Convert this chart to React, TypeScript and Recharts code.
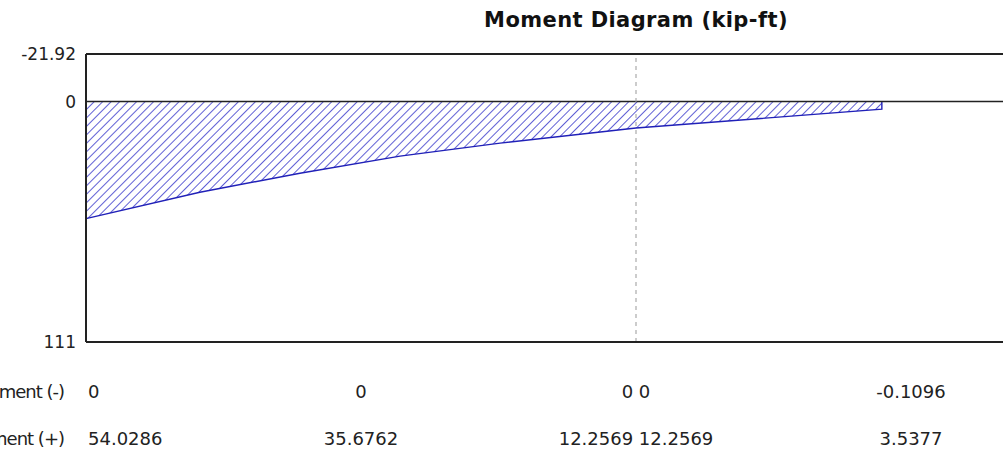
import { AreaChart, Area, XAxis, YAxis, ReferenceLine } from "recharts";

// beam stations (plot units, midspan = 10) and moment
const STATION = [0, 2.07, 3.89, 5.71, 7.53, 9.35, 10, 14.47, 14.47];
const MOMENT = [54.03, 41.9, 33.1, 25.2, 19.2, 14.1, 12.26, 3.54, 0];

const Y_TICKS = [-21.92, 0, 111];
const TABLE_STATIONS = [0, 5, 10, 15];
const NEG_ROW = ["0", "0", "0 0", "-0.1096"];
const POS_ROW = ["54.0286", "35.6762", "12.2569 12.2569", "3.5377"];
const ROW_NAMES = ["Moment (-)", "Moment (+)"];

const data = STATION.map((x, i) => ({ x, m: MOMENT[i] }));

const FONT = "'DejaVu Sans', Verdana, sans-serif";

function TableTick(props: any) {
  const { x, y, index } = props;
  const first = index === 0;
  const anchor = first ? "start" : "middle";
  const tx = first ? x + 2 : x;
  return (
    <g fontFamily={FONT} fontSize={18} fill="#222">
      {first && (
        <>
          <text x={x - 22} y={y} dy={48} textAnchor="end" letterSpacing={-1}>{ROW_NAMES[0]}</text>
          <text x={x - 22} y={y} dy={95} textAnchor="end" letterSpacing={-1}>{ROW_NAMES[1]}</text>
        </>
      )}
      <text x={tx} y={y} dy={48} textAnchor={anchor}>{NEG_ROW[index]}</text>
      <text x={tx} y={y} dy={95} textAnchor={anchor}>{POS_ROW[index]}</text>
    </g>
  );
}

export default function App() {
  return (
    <div style={{ position: "fixed", left: 0, top: 0, width: 1003, height: 458, overflow: "hidden", background: "#fff" }}>
      <div
        style={{
          position: "absolute",
          left: 86,
          width: 1100,
          top: 8,
          textAlign: "center",
          fontFamily: FONT,
          fontWeight: "bold",
          fontSize: 21,
          letterSpacing: 0.4,
          color: "#111",
        }}
      >
        Moment Diagram (kip-ft)
      </div>
      <AreaChart width={1250} height={458} data={data} margin={{ top: 54, right: 64, left: 0, bottom: 0 }}>
        <defs>
          <pattern id="hatch" patternUnits="userSpaceOnUse" width={6} height={6} patternTransform="rotate(45)">
            <rect width={6} height={6} fill="#fff" />
            <line x1={0} y1={0} x2={0} y2={6} stroke="#2b2bc8" strokeWidth={1.5} />
          </pattern>
        </defs>
        <XAxis
          dataKey="x"
          type="number"
          domain={[0, 20]}
          ticks={TABLE_STATIONS}
          tick={<TableTick />}
          tickLine={false}
          axisLine={{ stroke: "#222", strokeWidth: 2 }}
          height={116}
          interval={0}
        />
        <YAxis
          type="number"
          domain={[-21.92, 111]}
          reversed
          ticks={Y_TICKS}
          width={86}
          tickLine={false}
          tickMargin={4}
          axisLine={{ stroke: "#222", strokeWidth: 2 }}
          tick={{ fill: "#222", fontSize: 17, fontFamily: FONT }}
          interval={0}
        />
        <Area
          dataKey="m"
          type="linear"
          baseValue={0}
          stroke="#2020b8"
          strokeWidth={1.4}
          fill="url(#hatch)"
          fillOpacity={1}
          isAnimationActive={false}
          dot={false}
          activeDot={false}
        />
        <ReferenceLine y={-21.92} stroke="#222" strokeWidth={2} />
        <ReferenceLine y={0} stroke="#222" strokeWidth={1.5} />
        <ReferenceLine x={10} stroke="#999" strokeDasharray="4 4" strokeWidth={1} />
      </AreaChart>
    </div>
  );
}
